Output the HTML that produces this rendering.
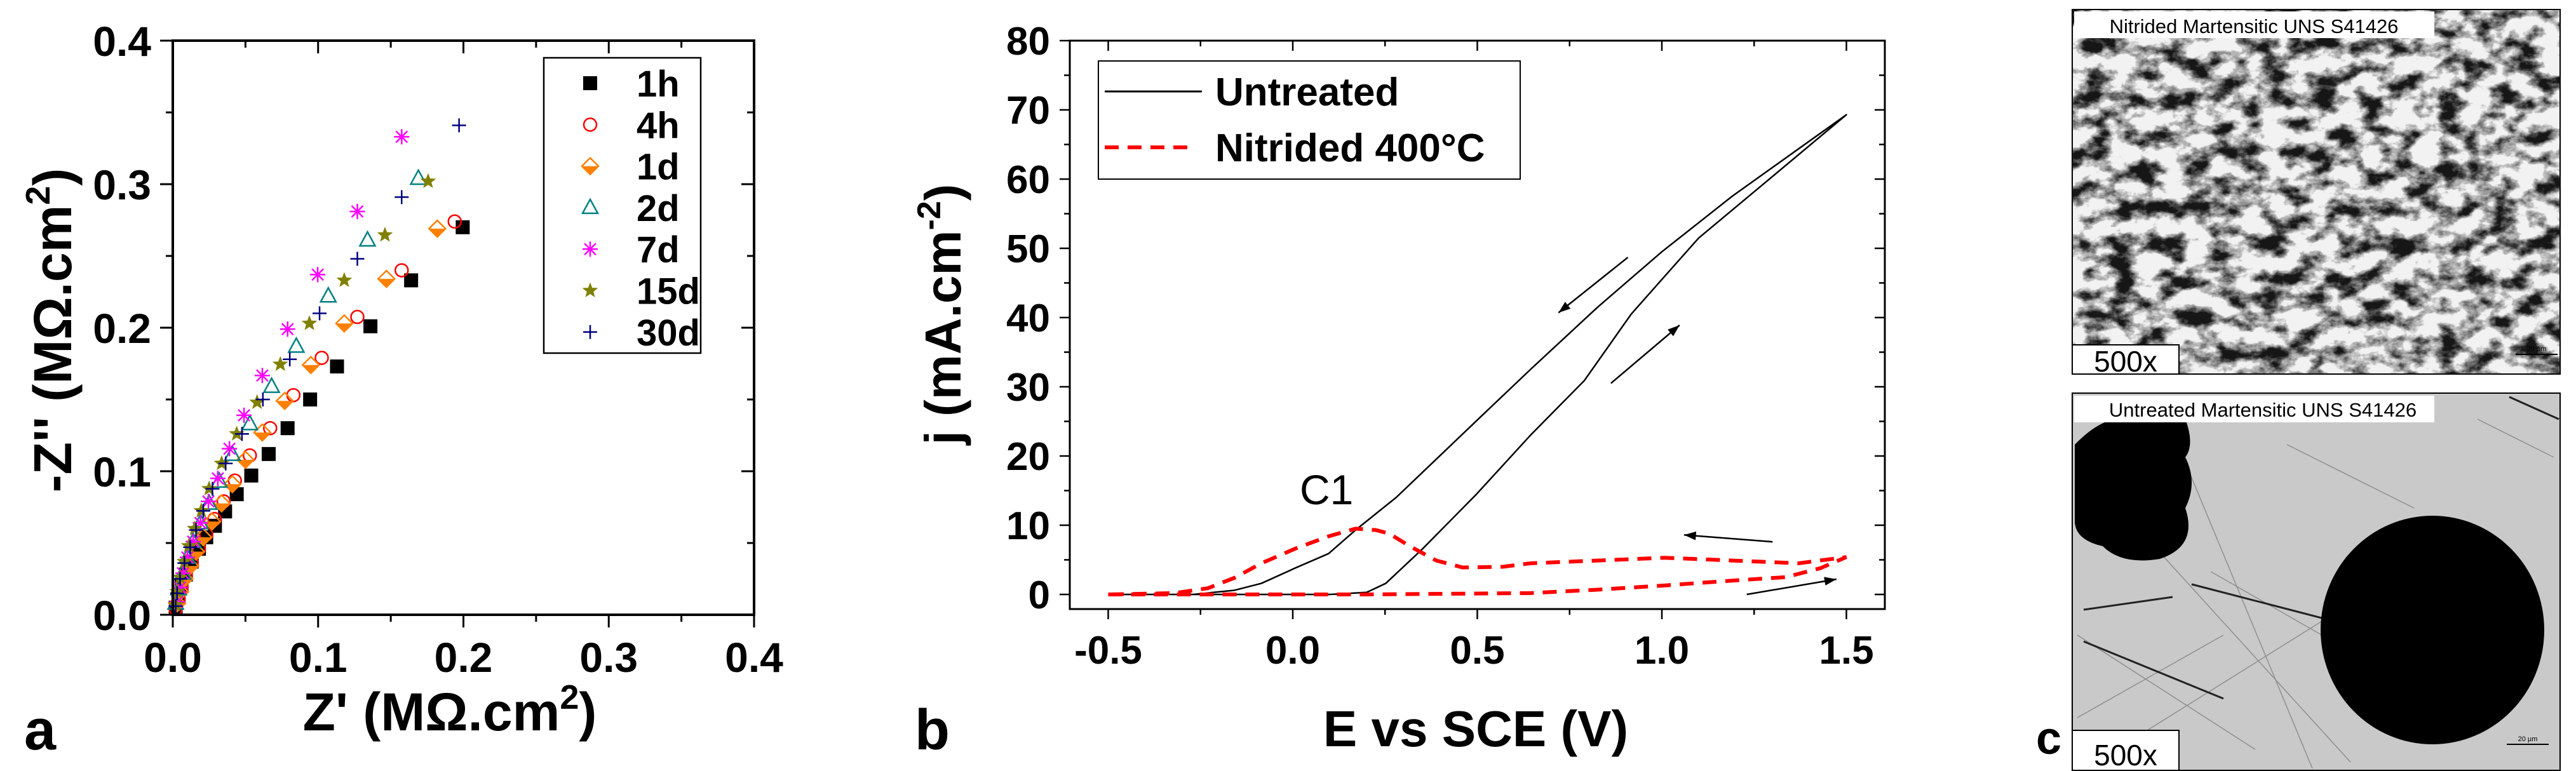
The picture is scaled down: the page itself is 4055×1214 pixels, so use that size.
<!DOCTYPE html>
<html><head><meta charset="utf-8">
<style>
html,body{margin:0;padding:0;background:#fff;}
svg{display:block;font-family:"Liberation Sans",Arial,sans-serif;}
</style></head>
<body>
<svg id="root" width="4055" height="1214" viewBox="0 0 4055 1214" xmlns="http://www.w3.org/2000/svg">
<defs>
  <filter id="micro" x="0" y="0" width="100%" height="100%">
    <feTurbulence type="fractalNoise" baseFrequency="0.025 0.035" numOctaves="5" seed="11" result="n"/>
    <feColorMatrix in="n" type="matrix" values="0 0 0 0 0  0 0 0 0 0  0 0 0 0 0  -3.4 0 0 0 2.0" result="a"/>
    <feFlood flood-color="#141414"/>
    <feComposite in2="a" operator="in"/>
  </filter>
</defs>
<g id="panelA"></g>
<g id="panelB"></g>
<g id="panelC">
  <g>
    <rect x="3262" y="15" width="768" height="574" fill="#f2f2f2" stroke="#000" stroke-width="2"/>
    <rect x="3262" y="15" width="768" height="574" fill="#000" filter="url(#micro)"/>
    <rect x="3265" y="18" width="567" height="42" fill="#fff"/>
    <text x="3548" y="52" font-size="31" text-anchor="middle">Nitrided Martensitic UNS S41426</text>
    <rect x="3262" y="543" width="168" height="46" fill="#fff" stroke="#000" stroke-width="2"/>
    <text x="3346" y="585" font-size="46" text-anchor="middle">500x</text>
    <line x1="3960" y1="558" x2="4026" y2="558" stroke="#000" stroke-width="2"/>
    <text x="3993" y="553" font-size="11" text-anchor="middle">20 µm</text>
  </g>
  <g>
    <rect x="3262" y="619" width="768" height="594" fill="#c9c9c9" stroke="#000" stroke-width="2"/>
    <g stroke="#777" stroke-width="1.5" opacity="0.7">
      <line x1="3270" y1="1000" x2="3550" y2="1180"/><line x1="3300" y1="760" x2="3700" y2="1200"/>
      <line x1="3270" y1="1130" x2="3500" y2="1000"/><line x1="3480" y1="900" x2="3760" y2="1060"/>
      <line x1="3420" y1="680" x2="3640" y2="1210"/><line x1="3600" y1="700" x2="3800" y2="800"/>
      <line x1="3900" y1="660" x2="4020" y2="720"/><line x1="3700" y1="950" x2="3300" y2="1200"/>
    </g>
    <g stroke="#222" stroke-width="3">
      <line x1="3280" y1="1010" x2="3500" y2="1100"/><line x1="3280" y1="960" x2="3420" y2="940"/>
      <line x1="3450" y1="920" x2="3720" y2="990"/><line x1="3950" y1="625" x2="4028" y2="660"/>
    </g>
    <path d="M3266,700 Q3300,665 3330,660 L3440,660 Q3455,700 3440,720 Q3460,760 3440,800 Q3460,860 3400,880 Q3340,890 3310,860 Q3266,850 3266,820 Z" fill="#000"/>
    <ellipse cx="3829" cy="992" rx="176" ry="180" fill="#000"/>
    <rect x="3265" y="623" width="567" height="42" fill="#fff"/>
    <text x="3562" y="656" font-size="31" text-anchor="middle">Untreated Martensitic UNS S41426</text>
    <rect x="3262" y="1150" width="168" height="63" fill="#fff" stroke="#000" stroke-width="2"/>
    <text x="3346" y="1205" font-size="46" text-anchor="middle">500x</text>
    <line x1="3946" y1="1172" x2="4012" y2="1172" stroke="#000" stroke-width="2"/>
    <text x="3979" y="1167" font-size="11" text-anchor="middle">20 µm</text>
  </g>
  <text x="3205" y="1187" font-size="72" font-weight="bold">c</text>
</g>
</svg>
<script>
// ---------- Panel A data ----------
const seriesNames = ["1h","4h","1d","2d","7d","15d","30d"];
const zr1h = [0.1995,0.164,0.136,0.113,0.0945,0.079,0.066,0.054,0.044,0.036,0.029,0.023,0.018,0.013,0.009,0.006,0.004,0.002];
const zi1h = [0.270,0.233,0.201,0.173,0.150,0.130,0.112,0.097,0.084,0.072,0.062,0.054,0.046,0.037,0.028,0.020,0.012,0.005];
const zr4h = [0.194,0.1575,0.127,0.1025,0.083,0.067,0.053,0.0427,0.035,0.0287,0.023,0.018,0.013,0.009,0.006,0.004,0.002];
const zi4h = [0.274,0.240,0.2075,0.179,0.153,0.130,0.111,0.0935,0.079,0.0667,0.056,0.046,0.036,0.027,0.019,0.011,0.004];
const zr1d = [0.182,0.147,0.118,0.095,0.077,0.0616,0.050,0.041,0.0336,0.027,0.021,0.016,0.012,0.008,0.005,0.003];
const zi1d = [0.269,0.234,0.203,0.174,0.149,0.127,0.108,0.091,0.0776,0.065,0.054,0.044,0.034,0.025,0.016,0.008];
const zr2d = [0.169,0.134,0.107,0.085,0.068,0.053,0.041,0.032,0.025,0.019,0.014,0.010,0.007,0.004,0.002];
const zi2d = [0.304,0.261,0.222,0.187,0.159,0.133,0.1116,0.093,0.0776,0.064,0.051,0.040,0.029,0.018,0.008];
const zr7d = [0.1575,0.127,0.0997,0.079,0.0616,0.049,0.039,0.031,0.0245,0.019,0.014,0.010,0.007,0.005,0.003];
const zi7d = [0.333,0.281,0.237,0.199,0.1667,0.139,0.1157,0.095,0.079,0.064,0.051,0.040,0.029,0.019,0.009];
const zr15d = [0.1757,0.146,0.118,0.094,0.074,0.058,0.044,0.0336,0.025,0.0196,0.015,0.011,0.008,0.005,0.003,0.002];
const zi15d = [0.302,0.2646,0.233,0.203,0.1745,0.148,0.126,0.1054,0.0878,0.0724,0.060,0.048,0.037,0.026,0.016,0.007];
const zr30d = [0.197,0.1575,0.127,0.101,0.0805,0.062,0.0476,0.0364,0.0273,0.021,0.016,0.012,0.008,0.005,0.003,0.002];
const zi30d = [0.341,0.291,0.248,0.210,0.178,0.150,0.126,0.1054,0.0878,0.0724,0.059,0.047,0.036,0.025,0.015,0.006];
const aTicks = ["0.0","0.1","0.2","0.3","0.4"];
// ---------- Panel B data ----------
const untreatedE = [-0.5,-0.3,-0.1,0.1,0.2,0.252,0.352,0.498,0.644,0.79,0.917,1.0,1.1,1.28,1.5,1.4,1.19,1.0,0.826,0.644,0.5,0.28,0.17,0.097,0.006,-0.085,-0.158,-0.27,-0.5];
const untreatedJ = [0,0,0,0,0.3,1.6,6.6,14.5,23,30.9,40.5,45.5,51.5,59.5,69.3,65.5,57.5,49.5,41.5,32.5,25.2,14,9.3,5.9,3.8,1.6,0.6,0,0];
const nitridedE = [-0.5,-0.2,0.2,0.644,0.83,1.008,1.19,1.336,1.43,1.5,1.37,1.19,1.008,0.826,0.644,0.57,0.46,0.389,0.316,0.261,0.225,0.17,0.097,0.006,-0.085,-0.158,-0.23,-0.32,-0.5];
const nitridedJ = [0,0,0,0.2,0.7,1.3,2,2.5,3.8,5.4,4.5,4.9,5.3,4.9,4.5,4,3.9,4.9,7,8.8,9.3,9.5,8.4,6.6,4.5,2.4,0.9,0.2,0];
const arrowStartE = [0.908,0.862,1.3,1.23];
const arrowStartJ = [48.7,30.5,7.6,0];
const arrowEndE = [0.72,1.048,1.06,1.473];
const arrowEndJ = [40.7,38.9,8.6,2.2];
const bXTicks = ["-0.5","0.0","0.5","1.0","1.5"];
const bYTicks = ["0","10","20","30","40","50","60","70","80"];

const NS="http://www.w3.org/2000/svg";
function mk(parent,tag,attrs,txt){const e=document.createElementNS(NS,tag);for(const k in attrs)e.setAttribute(k,attrs[k]);if(txt!==undefined)e.textContent=txt;parent.appendChild(e);return e;}

// ===== Panel A =====
const A=document.getElementById('panelA');
const ax0=272,ax1=1187,ay0=968,ay1=64;
const ax=v=>ax0+(v/0.4)*(ax1-ax0);
const ay=v=>ay0-(v/0.4)*(ay0-ay1);
const colors={"1h":"#000","4h":"#ff0000","1d":"#ff8000","2d":"#008080","7d":"#ff00ff","15d":"#808000","30d":"#000080"};
function marker(g,name,x,y){
  const c=colors[name];let e;
  if(name==="1h"){e=mk(g,'rect',{x:x-11,y:y-11,width:22,height:22,fill:c});}
  else if(name==="4h"){e=mk(g,'circle',{cx:x,cy:y,r:10,fill:'none',stroke:c,'stroke-width':2.5});}
  else if(name==="1d"){e=mk(g,'g',{});mk(e,'path',{d:`M${x-13},${y} L${x+13},${y} L${x},${y+13} Z`,fill:c});mk(e,'path',{d:`M${x},${y-13} L${x+13},${y} L${x},${y+13} L${x-13},${y} Z`,fill:'none',stroke:c,'stroke-width':2.5});}
  else if(name==="2d"){e=mk(g,'path',{d:`M${x},${y-13} L${x+12},${y+9} L${x-12},${y+9} Z`,fill:'none',stroke:c,'stroke-width':2.5});}
  else if(name==="7d"){e=mk(g,'path',{d:`M${x-12},${y} L${x+12},${y} M${x},${y-12} L${x},${y+12} M${x-9},${y-9} L${x+9},${y+9} M${x-9},${y+9} L${x+9},${y-9}`,stroke:c,'stroke-width':2.5});}
  else if(name==="15d"){let p=[];for(let i=0;i<10;i++){const r=i%2?5.5:13;const a=-Math.PI/2+i*Math.PI/5;p.push((x+r*Math.cos(a)).toFixed(1)+','+(y+r*Math.sin(a)).toFixed(1));}e=mk(g,'polygon',{points:p.join(' '),fill:c});}
  else {e=mk(g,'path',{d:`M${x-11},${y} L${x+11},${y} M${x},${y-11} L${x},${y+11}`,stroke:c,'stroke-width':2.5});}
  return e;
}
const dataA={"1h":[zr1h,zi1h],"4h":[zr4h,zi4h],"1d":[zr1d,zi1d],"2d":[zr2d,zi2d],"7d":[zr7d,zi7d],"15d":[zr15d,zi15d],"30d":[zr30d,zi30d]};
seriesNames.forEach(n=>{
  const g=mk(A,'g',{});
  
  
  const [xs,ys]=dataA[n];
  xs.forEach((v,i)=>{const m=marker(g,n,ax(v),ay(ys[i]));
    
    });
});
mk(A,'rect',{x:ax0,y:ay1,width:ax1-ax0,height:ay0-ay1,fill:'none',stroke:'#000','stroke-width':4});
for(let i=0;i<=8;i++){const v=i*0.05;const L=i%2?11:20;
  mk(A,'line',{x1:ax(v),y1:ay0,x2:ax(v),y2:ay0+L,stroke:'#000','stroke-width':3});
  mk(A,'line',{x1:ax(v),y1:ay1,x2:ax(v),y2:ay1+L,stroke:'#000','stroke-width':3});
  mk(A,'line',{x1:ax0,y1:ay(v),x2:ax0-L,y2:ay(v),stroke:'#000','stroke-width':3});
  mk(A,'line',{x1:ax1,y1:ay(v),x2:ax1-L,y2:ay(v),stroke:'#000','stroke-width':3});}
aTicks.forEach((t,i)=>{const v=parseFloat(t);
  const tx=mk(A,'text',{x:ax(v),y:1058,'font-size':66,'font-weight':'bold','text-anchor':'middle'},t);
  
  
  const ty=mk(A,'text',{x:238,y:ay(v)+24,'font-size':66,'font-weight':'bold','text-anchor':'end'},t);
  
  });
{const t=mk(A,'text',{x:708,y:1150,'font-size':84,'font-weight':'bold','text-anchor':'middle'});
 
 t.innerHTML="Z' (MΩ.cm<tspan dy='-34' font-size='54'>2</tspan><tspan dy='34'>)</tspan>";
 const y=mk(A,'text',{transform:'translate(112,520) rotate(-90)','font-size':84,'font-weight':'bold','text-anchor':'middle'});
 
 y.innerHTML="-Z'' (MΩ.cm<tspan dy='-34' font-size='54'>2</tspan><tspan dy='34'>)</tspan>";
 const l=mk(A,'text',{x:38,y:1180,'font-size':90,'font-weight':'bold'},'a');
 }
{const lg=mk(A,'g',{});
 
 mk(lg,'rect',{x:856,y:91,width:247,height:465,fill:'#fff',stroke:'#000','stroke-width':2.5});
 seriesNames.forEach((n,i)=>{const yy=131+i*65.3;
   const e=mk(lg,'g',{});
   
   
   marker(e,n,929,yy);
   mk(e,'text',{x:1002,y:yy+21,'font-size':58,'font-weight':'bold'},n);});}

// ===== Panel B =====
const B=document.getElementById('panelB');
const bx0=1684,bx1=2967,by0=959,by1=64;
const bx=v=>2035+v*581;
const by=v=>936-v*10.9;
mk(B,'rect',{x:bx0,y:by1,width:bx1-bx0,height:by0-by1,fill:'none',stroke:'#000','stroke-width':3});
for(let i=-1;i<=9;i++){const v=-0.5+i*0.25;const L=(i%2===0)?16:9;const X=bx(v);
  if(X<bx0||X>bx1)continue;
  mk(B,'line',{x1:X,y1:by0,x2:X,y2:by0+L,stroke:'#000','stroke-width':2.5});
  mk(B,'line',{x1:X,y1:by1,x2:X,y2:by1+L,stroke:'#000','stroke-width':2.5});}
for(let i=0;i<=16;i++){const v=i*5;const L=i%2?9:16;
  mk(B,'line',{x1:bx0,y1:by(v),x2:bx0-L,y2:by(v),stroke:'#000','stroke-width':2.5});
  mk(B,'line',{x1:bx1,y1:by(v),x2:bx1-L,y2:by(v),stroke:'#000','stroke-width':2.5});}
bXTicks.forEach(t=>{const e=mk(B,'text',{x:bx(parseFloat(t)),y:1045,'font-size':62,'font-weight':'bold','text-anchor':'middle'},t);
  });
bYTicks.forEach(t=>{const e=mk(B,'text',{x:1653,y:by(parseFloat(t))+22,'font-size':62,'font-weight':'bold','text-anchor':'end'},t);
  });
{const p=mk(B,'polyline',{points:untreatedE.map((e,i)=>bx(e)+','+by(untreatedJ[i])).join(' '),fill:'none',stroke:'#000','stroke-width':2.5,'stroke-linejoin':'round'});
 
 const q=mk(B,'polyline',{points:nitridedE.map((e,i)=>bx(e)+','+by(nitridedJ[i])).join(' '),fill:'none',stroke:'#ff0000','stroke-width':6,'stroke-dasharray':'22 14'});
 }
arrowStartE.forEach((e,i)=>{const x1=bx(e),y1=by(arrowStartJ[i]),x2=bx(arrowEndE[i]),y2=by(arrowEndJ[i]);
  const g=mk(B,'g',{});
  
  
  mk(g,'line',{x1,y1,x2,y2,stroke:'#000','stroke-width':2.5});
  const a=Math.atan2(y2-y1,x2-x1),h=20,w=0.35;
  mk(g,'path',{d:`M${x2},${y2} L${x2-h*Math.cos(a-w)},${y2-h*Math.sin(a-w)} L${x2-h*Math.cos(a+w)},${y2-h*Math.sin(a+w)} Z`,fill:'#000'});});
{const lg=mk(B,'g',{});
 
 mk(lg,'rect',{x:1729,y:96,width:664,height:186,fill:'#fff',stroke:'#000','stroke-width':2});
 const e1=mk(lg,'g',{});
 mk(e1,'line',{x1:1739,y1:144,x2:1892,y2:144,stroke:'#000','stroke-width':3});
 mk(e1,'text',{x:1913,y:166,'font-size':62,'font-weight':'bold'},'Untreated');
 const e2=mk(lg,'g',{});
 mk(e2,'line',{x1:1739,y1:232,x2:1882,y2:232,stroke:'#ff0000','stroke-width':6,'stroke-dasharray':'22 14'});
 mk(e2,'text',{x:1913,y:254,'font-size':62,'font-weight':'bold'},'Nitrided 400°C');}
{const c=mk(B,'text',{x:2046,y:794,'font-size':66},'C1');
 const t=mk(B,'text',{x:2323,y:1175,'font-size':80,'font-weight':'bold','text-anchor':'middle'},'E vs SCE (V)');
 
 const y=mk(B,'text',{transform:'translate(1512,495) rotate(-90)','font-size':80,'font-weight':'bold','text-anchor':'middle'});
 
 y.innerHTML="j (mA.cm<tspan dy='-32' font-size='52'>-2</tspan><tspan dy='32'>)</tspan>";
 const l=mk(B,'text',{x:1440,y:1180,'font-size':90,'font-weight':'bold'},'b');
 }
</script>
</body></html>
